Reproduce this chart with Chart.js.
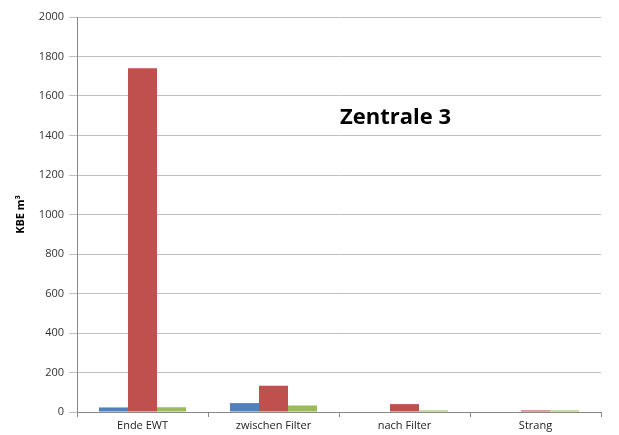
<!DOCTYPE html>
<html><head><meta charset="utf-8">
<script src="https://cdn.jsdelivr.net/npm/chart.js@4"></script>
<style>html,body{margin:0;padding:0;background:#fff}#wrap{width:619px;height:435px}</style>
</head><body><div id="wrap"><canvas id="c" width="619" height="435"></canvas></div>
<script>
const categories = ["Ende EWT", "zwischen Filter", "nach Filter", "Strang"];
const series1 = [23, 45, 0, 0];
const series2 = [1740, 133, 40, 8];
const series3 = [24, 33, 8, 8];
const yTicks = [0, 200, 400, 600, 800, 1000, 1200, 1400, 1600, 1800, 2000];
const chartTitle = "Zentrale 3";
const yTitle = "KBE m³";

const titlePlugin = {
  id: 'inTitle',
  afterDraw(chart) {
    const ctx = chart.ctx, a = chart.chartArea;
    ctx.save();
    ctx.font = 'bold 22px "Open Sans", sans-serif';
    ctx.fillStyle = '#000';
    ctx.textAlign = 'center';
    ctx.textBaseline = 'middle';
    ctx.fillText(chartTitle, a.left + (a.right - a.left) * 0.608, 118);
    ctx.restore();
  }
};

new Chart(document.getElementById('c'), {
  type: 'bar',
  data: {
    labels: categories,
    datasets: [
      {data: series1, backgroundColor: '#4F81BD'},
      {data: series2, backgroundColor: '#C0504D'},
      {data: series3, backgroundColor: '#9BBB59'}
    ]
  },
  options: {
    responsive: false,
    animation: false,
    devicePixelRatio: 1,
    layout: {padding: {left: 0, right: 18, top: 17, bottom: 0}},
    plugins: {legend: {display: false}, title: {display: false}, tooltip: {enabled: false}},
    datasets: {bar: {categoryPercentage: 0.665, barPercentage: 1}},
    scales: {
      x: {
        grid: {display: true, drawOnChartArea: false, offset: true, tickLength: 5, color: '#888'},
        border: {color: '#888'},
        ticks: {color: '#222', font: {family: '"Open Sans", sans-serif', size: 11}, padding: 2, maxRotation: 0},
        afterFit(s) { s.height = 23; }
      },
      y: {
        min: 0, max: 2000,
        afterBuildTicks(s) { s.ticks = yTicks.map(v => ({value: v})); },
        grid: {color: '#c0c0c0', tickLength: 8, lineWidth: 1},
        border: {color: '#888'},
        ticks: {color: '#333', font: {family: '"Open Sans", sans-serif', size: 11}, padding: 5, callback: v => String(v)},
        title: {display: true, text: yTitle, color: '#000', font: {family: '"Open Sans", sans-serif', size: 11, weight: 'bold'}, padding: {top: 14, bottom: 0}},
        afterFit(s) { s.width = 77; }
      }
    }
  },
  plugins: [titlePlugin]
});
</script></body></html>
